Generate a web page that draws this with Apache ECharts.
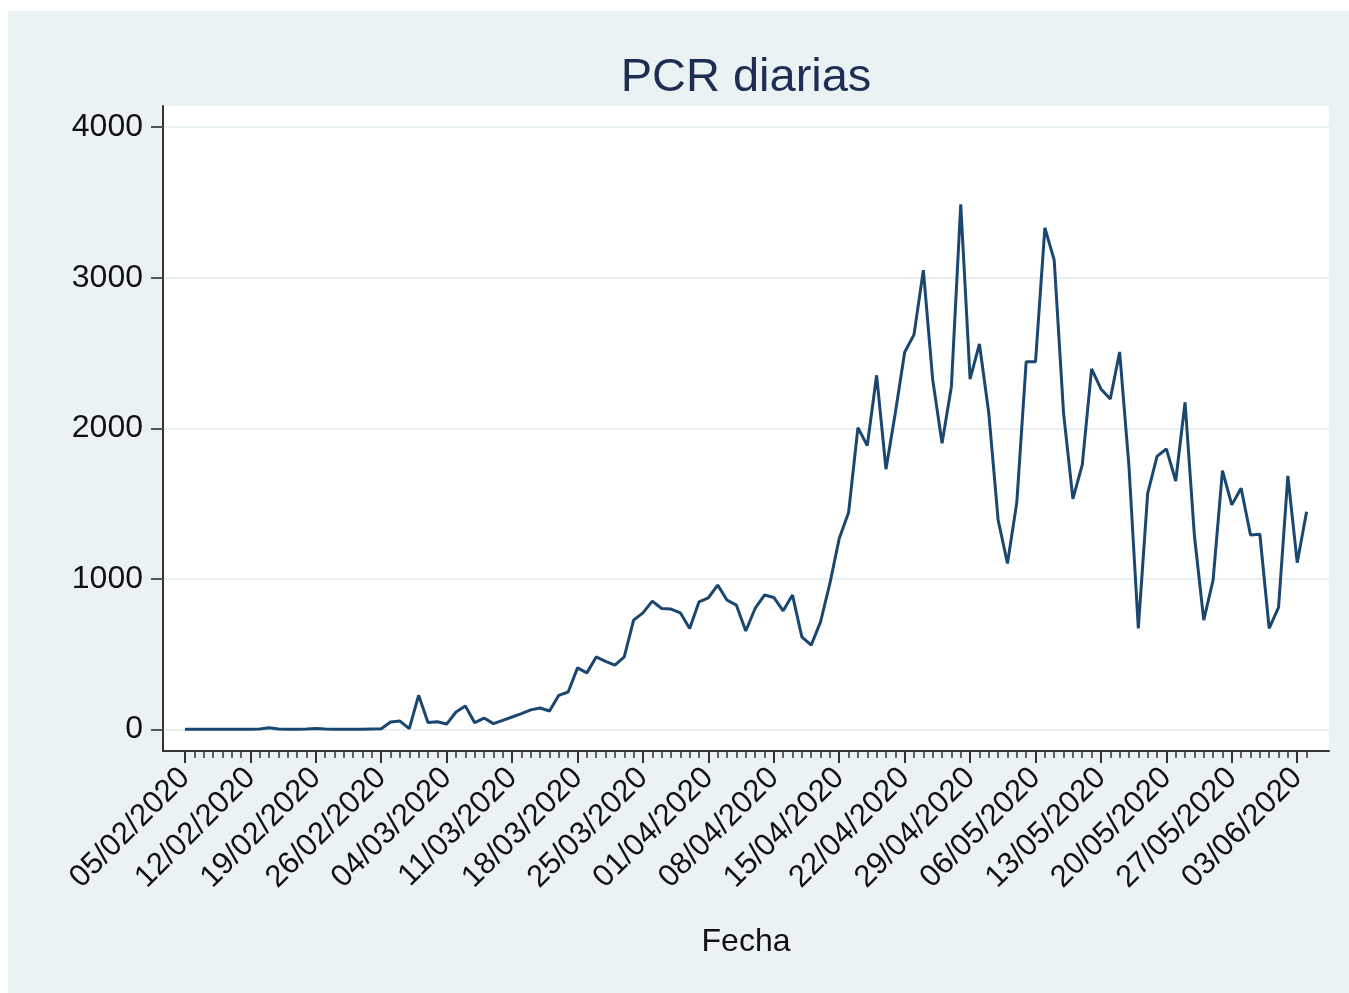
<!DOCTYPE html>
<html>
<head>
<meta charset="utf-8">
<script src="https://cdn.jsdelivr.net/npm/echarts@6/dist/echarts.min.js"></script>
<style>
  html, body { margin: 0; padding: 0; background: #fff; }
  #fondo { position: absolute; left: 8px; top: 11px; width: 1341px; height: 982px; background: #eaf2f3; }
  #chart { position: absolute; left: 0; top: 0; width: 1349px; height: 993px; }
</style>
</head>
<body>
<div id="fondo"></div>
<div id="chart"></div>
<script>
// PCR diarias desde 05/02/2020 (un valor por día)
const pcr = [
  0, 0, 0, 0, 0, 0, 0, 0, 2, 10, 2, 0, 0, 2, 6, 2, 0, 0, 0, 0,
  2, 4, 49, 55, 5, 226, 45, 50, 35, 115, 155, 44, 75, 38, 60, 82, 104, 129, 142, 122,
  226, 248, 408, 375, 481, 452, 426, 481, 725, 774, 852, 803, 799, 774, 670, 847, 874, 958, 858, 825,
  653, 803, 892, 876, 787, 892, 614, 559, 714, 969, 1268, 1440, 2004, 1885, 2352, 1728, 2101, 2505, 2622, 3050,
  2323, 1901, 2278, 3488, 2327, 2560, 2101, 1391, 1102, 1508, 2442, 2442, 3332, 3117, 2101, 1531, 1757, 2394, 2261, 2194,
  2507, 1746, 670, 1568, 1813, 1863, 1650, 2173, 1286, 725, 992, 1719, 1491, 1602, 1291, 1296, 670, 810, 1684, 1107,
  1446
];

// etiquetas del eje x, una cada 7 días
const etiquetasFecha = [
  "05/02/2020", "12/02/2020", "19/02/2020", "26/02/2020", "04/03/2020", "11/03/2020",
  "18/03/2020", "25/03/2020", "01/04/2020", "08/04/2020", "15/04/2020", "22/04/2020",
  "29/04/2020", "06/05/2020", "13/05/2020", "20/05/2020", "27/05/2020", "03/06/2020"
];

const valoresY = [0, 1000, 2000, 3000, 4000];

const diasMayores = etiquetasFecha.map((_, i) => i * 7);
const diasMenores = pcr.map((_, i) => i);

const fuente = "Liberation Sans, Arial, sans-serif";
const colorEje = "#333";

const chart = echarts.init(document.getElementById("chart"));

const option = {
  backgroundColor: "transparent",
  animation: false,
  title: {
    text: "PCR diarias",
    left: 741,
    top: 50,
    textAlign: "center",
    textStyle: { fontFamily: fuente, fontSize: 47, fontWeight: "normal", color: "#1e2d52" }
  },
  grid: {
    left: 163, right: 20, top: 106, bottom: 242,
    show: true, backgroundColor: "#fff", borderWidth: 0,
    containLabel: false,
    outerBoundsMode: "none"
  },
  xAxis: [
    {
      type: "value",
      position: "bottom",
      min: -2.35,
      max: 122.4,
      axisLine: { show: true, onZero: false, lineStyle: { color: colorEje, width: 2 } },
      axisTick: { show: true, length: 12, customValues: diasMayores, lineStyle: { color: colorEje, width: 2 } },
      axisLabel: {
        customValues: diasMayores,
        rotate: 45,
        margin: 22,
        fontFamily: fuente,
        fontSize: 31,
        color: "#111",
        formatter: (v) => etiquetasFecha[Math.round(v / 7)]
      },
      splitLine: { show: false },
      name: "Fecha",
      nameLocation: "middle",
      nameGap: 175,
      nameMoveOverlap: false,
      nameTextStyle: { fontFamily: fuente, fontSize: 32, color: "#111" }
    },
    {
      type: "value",
      position: "bottom",
      min: -2.35,
      max: 122.4,
      axisLine: { show: false, onZero: false },
      axisTick: { show: true, length: 7, customValues: diasMenores, lineStyle: { color: colorEje, width: 1.5 } },
      axisLabel: { show: false },
      splitLine: { show: false }
    }
  ],
  yAxis: {
    type: "value",
    min: -144,
    max: 4141,
    axisLine: { show: true, onZero: false, lineStyle: { color: colorEje, width: 2 } },
    axisTick: { show: true, length: 12, customValues: valoresY, lineStyle: { color: "#555", width: 2 } },
    axisLabel: {
      customValues: valoresY,
      margin: 20,
      fontFamily: fuente,
      fontSize: 32,
      color: "#111",
      formatter: (v) => String(v)
    },
    splitLine: { show: true, lineStyle: { color: "#e8f0f2", width: 2 } }
  },
  series: [
    {
      type: "line",
      xAxisIndex: 0,
      data: pcr.map((v, i) => [i, v]),
      showSymbol: false,
      lineStyle: { color: "#1a476f", width: 3 }
    }
  ]
};

chart.setOption(option);
</script>
</body>
</html>
